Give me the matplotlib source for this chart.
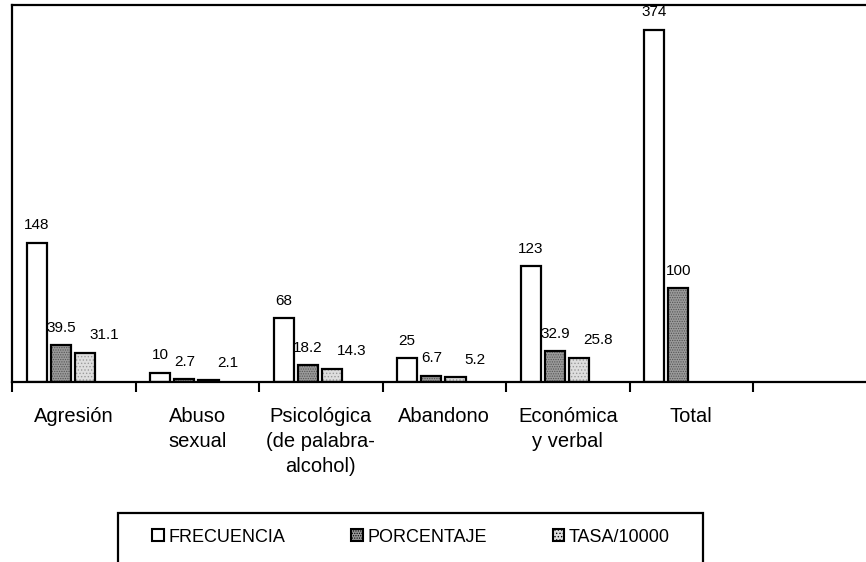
import numpy as np
import matplotlib
matplotlib.use("Agg")
import matplotlib.pyplot as plt
from matplotlib.patches import Patch, Rectangle

plt.rcParams['font.family'] = ['Liberation Sans', 'DejaVu Sans']
plt.rcParams['hatch.linewidth'] = 0.6

categories = ['Agresión', 'Abuso\nsexual', 'Psicológica\n(de palabra-\nalcohol)',
              'Abandono', 'Económica\ny verbal', 'Total', '']
frecuencia = [148, 10, 68, 25, 123, 374]
porcentaje = [39.5, 2.7, 18.2, 6.7, 32.9, 100]
tasa = [31.1, 2.1, 14.3, 5.2, 25.8, np.nan]
series_names = ['FRECUENCIA', 'PORCENTAJE', 'TASA/10000']

fig = plt.figure(figsize=(8.66, 5.62), dpi=100)
ax = fig.add_axes([12 / 866, 180 / 562, 1 - 12 / 866, 377 / 562])

slot = np.arange(len(frecuencia))
offsets = [0.2, 0.395, 0.59]
width = 0.165
styles = [
    dict(color='white', hatch=None, hcolor='white'),
    dict(color='#9a9a9a', hatch='.......', hcolor='#555555'),
    dict(color='#dedede', hatch='.....', hcolor='#9a9a9a'),
]
label_dx = [0, 0, 14]  # points, tasa labels sit to the right

for vals, off, st, dx in zip([frecuencia, porcentaje, tasa], offsets, styles, label_dx):
    x = slot + off
    ax.bar(x, vals, width, color=st['color'], hatch=st['hatch'],
           edgecolor=st['hcolor'], linewidth=0)
    ax.bar(x, vals, width, fill=False, edgecolor='black', linewidth=1.6)
    for xi, v in zip(x, vals):
        if np.isnan(v):
            continue
        ax.annotate(f"{v:g}", (xi, v), xytext=(dx, 9.5), textcoords='offset points',
                    ha='center', va='baseline', fontsize=11)

ax.set_xlim(0, (866 - 12) / 123.5)
ax.set_ylim(0, 400)

ax.set_xticks(np.arange(0, 7))
ax.set_xticklabels([])
ax.set_xticks(np.arange(len(categories)) + 0.5, minor=True)
ax.set_xticklabels(categories, minor=True, fontsize=14.5, va='top', linespacing=1.4)
ax.tick_params(axis='x', which='major', direction='out', length=7, width=1.5)
ax.tick_params(axis='x', which='minor', length=0, pad=18)
ax.set_yticks([])

for s in ['left', 'bottom', 'top']:
    ax.spines[s].set_linewidth(1.6)
ax.spines['right'].set_visible(False)

handles = [Patch(facecolor=st['color'], edgecolor='black', linewidth=1.5,
                 hatch=st['hatch'], label=n)
           for st, n in zip(styles, series_names)]
fig.legend(handles=handles, loc='center left', ncol=3, frameon=False,
           bbox_to_anchor=(152 / 866, 1 - 537 / 562), fontsize=13,
           handlelength=0.65, handleheight=0.65, handletextpad=0.25,
           columnspacing=3.65, borderpad=0, borderaxespad=0)
fig.patches.append(Rectangle((118 / 866, -0.05), 585 / 866, 0.05 + 49 / 562,
                             transform=fig.transFigure, fill=False,
                             edgecolor='black', linewidth=1.6))

fig.savefig('out.png', dpi=100)
